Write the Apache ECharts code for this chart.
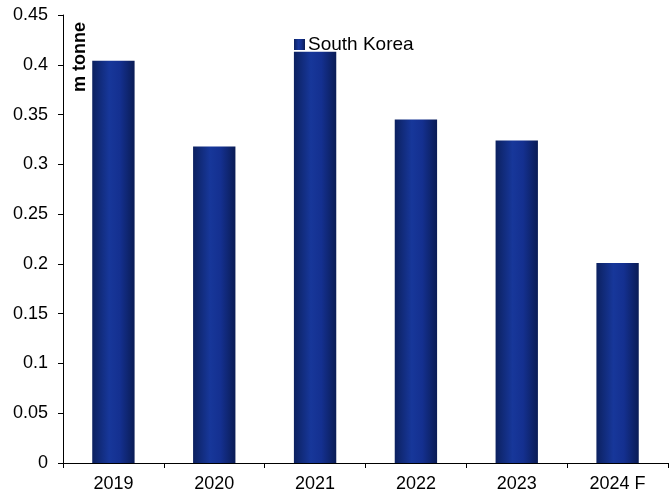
<!DOCTYPE html>
<html>
<head>
<meta charset="utf-8">
<script src="https://cdn.jsdelivr.net/npm/echarts@6/dist/echarts.min.js"></script>
<style>
html,body{margin:0;padding:0;background:#fff;}
#main{width:669px;height:497px;}
</style>
</head>
<body>
<div id="main"></div>
<script>
var years = ["2019", "2020", "2021", "2022", "2023", "2024 F"];
var korea = [0.404, 0.318, 0.413, 0.345, 0.324, 0.201];
var yTicks = [0, 0.05, 0.1, 0.15, 0.2, 0.25, 0.3, 0.35, 0.4, 0.45];

var barFill = new echarts.graphic.LinearGradient(0, 0, 1, 0, [
  { offset: 0, color: "#0c2160" },
  { offset: 0.4, color: "#17379a" },
  { offset: 0.65, color: "#143090" },
  { offset: 1, color: "#0a1c55" }
]);

var chart = echarts.init(document.getElementById("main"), null, { renderer: "canvas" });
var option = {
  animation: false,
  textStyle: { fontFamily: "Liberation Sans, Arial, sans-serif" },
  grid: { left: 63, right: 1, top: 15, bottom: 34 },
  legend: {
    data: ["South Korea"],
    left: 289,
    top: 30,
    itemWidth: 11,
    itemHeight: 11,
    itemGap: 4,
    icon: "rect",
    textStyle: { fontSize: 19, color: "#000", padding: [0, 0, 0, -2] }
  },
  graphic: [{
    type: "text",
    x: 89,
    y: 92,
    rotation: Math.PI / 2,
    style: {
      text: "m tonne",
      font: "bold 18px Liberation Sans, Arial, sans-serif",
      fill: "#000",
      textAlign: "left",
      textVerticalAlign: "bottom"
    }
  }],
  xAxis: {
    type: "category",
    data: years,
    axisLine: { lineStyle: { color: "#000", width: 1 } },
    axisTick: { show: true, alignWithLabel: false, length: 5, lineStyle: { color: "#000" } },
    axisLabel: { color: "#000", fontSize: 18, margin: 12 }
  },
  yAxis: {
    type: "value",
    min: 0,
    max: 0.45,
    interval: 0.05,
    splitLine: { show: false },
    axisLine: { show: true, lineStyle: { color: "#000", width: 1 } },
    axisTick: { show: true, length: 5, lineStyle: { color: "#000" } },
    axisLabel: {
      color: "#000",
      fontSize: 18,
      margin: 15,
      formatter: function (v) {
        var r = Math.round(v * 100) / 100;
        return yTicks.indexOf(r) >= 0 ? String(r) : "";
      }
    }
  },
  series: [{
    name: "South Korea",
    type: "bar",
    data: korea,
    barWidth: "42%",
    itemStyle: { color: barFill }
  }]
};
chart.setOption(option);
</script>
</body>
</html>
